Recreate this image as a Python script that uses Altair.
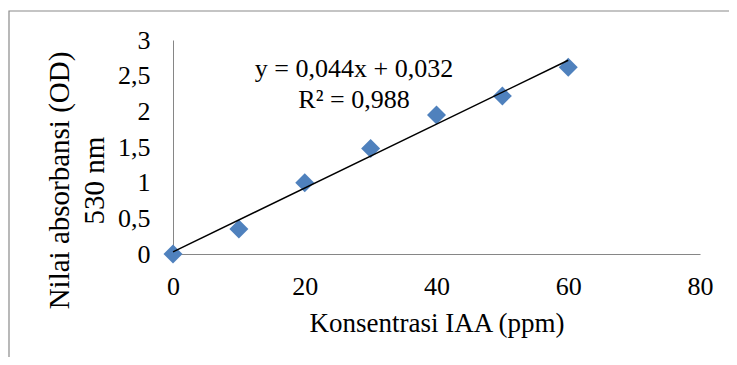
import altair as alt
import pandas as pd

# ---- data ----
conc = [0, 10, 20, 30, 40, 50, 60]
absorb = [0.0, 0.35, 1.0, 1.48, 1.95, 2.215, 2.617]
x_ticks = [0, 20, 40, 60, 80]
y_ticks = [0, 0.5, 1, 1.5, 2, 2.5, 3]
eq_lines = ["y = 0,044x + 0,032", "R² = 0,988"]
x_title = "Konsentrasi IAA (ppm)"
y_title = ["Nilai absorbansi (OD)", "530 nm"]

df = pd.DataFrame({"x": conc, "y": absorb})
FONT = "Liberation Serif"
AXIS_GRAY = "#868686"
FS = 26

x_enc = alt.X(
    "x:Q",
    scale=alt.Scale(domain=[0, 80], nice=False),
    axis=alt.Axis(
        values=x_ticks, title=x_title, grid=False, ticks=False, tickSize=0,
        domainColor=AXIS_GRAY, domainWidth=1,
        labelFont=FONT, labelFontSize=FS, labelColor="black", labelPadding=19,
        labelBaseline="top", labelFlush=False, labelOverlap=False,
        titleFont=FONT, titleFontSize=27, titleFontWeight="normal", titleColor="black",
        titleBaseline="alphabetic", titleY=77,
    ),
)
y_enc = alt.Y(
    "y:Q",
    scale=alt.Scale(domain=[0, 3], nice=False),
    axis=alt.Axis(
        values=y_ticks, title=y_title, grid=False, ticks=False, tickSize=0,
        tickCount=7,
        domainColor=AXIS_GRAY, domainWidth=1,
        labelFont=FONT, labelFontSize=FS, labelColor="black", labelPadding=23,
        labelFlush=False, labelOverlap=False,
        labelExpr="replace(format(datum.value, '.1~f'), '.', ',')",
        titleFont=FONT, titleFontSize=29, titleFontWeight="normal", titleColor="black",
        titleAngle=270, titleBaseline="alphabetic", titleAlign="center",
        titleLineHeight=35, titleX=-105, titleY=140,
    ),
)

base = alt.Chart(df)

points = base.mark_point(
    shape="diamond", filled=True, size=360, color="#4F81BD", opacity=1
).encode(x=x_enc, y=y_enc)

trend = base.transform_regression("x", "y", extent=[0, 60]).mark_line(
    color="black", strokeWidth=1.5
).encode(x=x_enc, y=y_enc)

one = pd.DataFrame({"k": ["a"]})

equation = alt.Chart(one).mark_text(
    text=eq_lines, font=FONT, fontSize=FS, color="black",
    align="center", baseline="alphabetic", lineHeight=31,
).encode(x=alt.value(181), y=alt.value(37))

border = alt.Chart(one).mark_rect(
    fill="transparent", stroke="#8a8a8a", strokeWidth=1.2
).encode(x=alt.value(-164), y=alt.value(-29), x2=alt.value(700), y2=alt.value(400))

chart = alt.layer(border, points, trend, equation).properties(
    width=527,
    height=214,
    autosize=alt.AutoSizeParams(type="none"),
    padding={"left": 165, "top": 32, "right": 29, "bottom": 103},
    background="white",
).configure_view(strokeWidth=0)

chart.save("out.html", embed_options={"renderer": "svg", "actions": False})
